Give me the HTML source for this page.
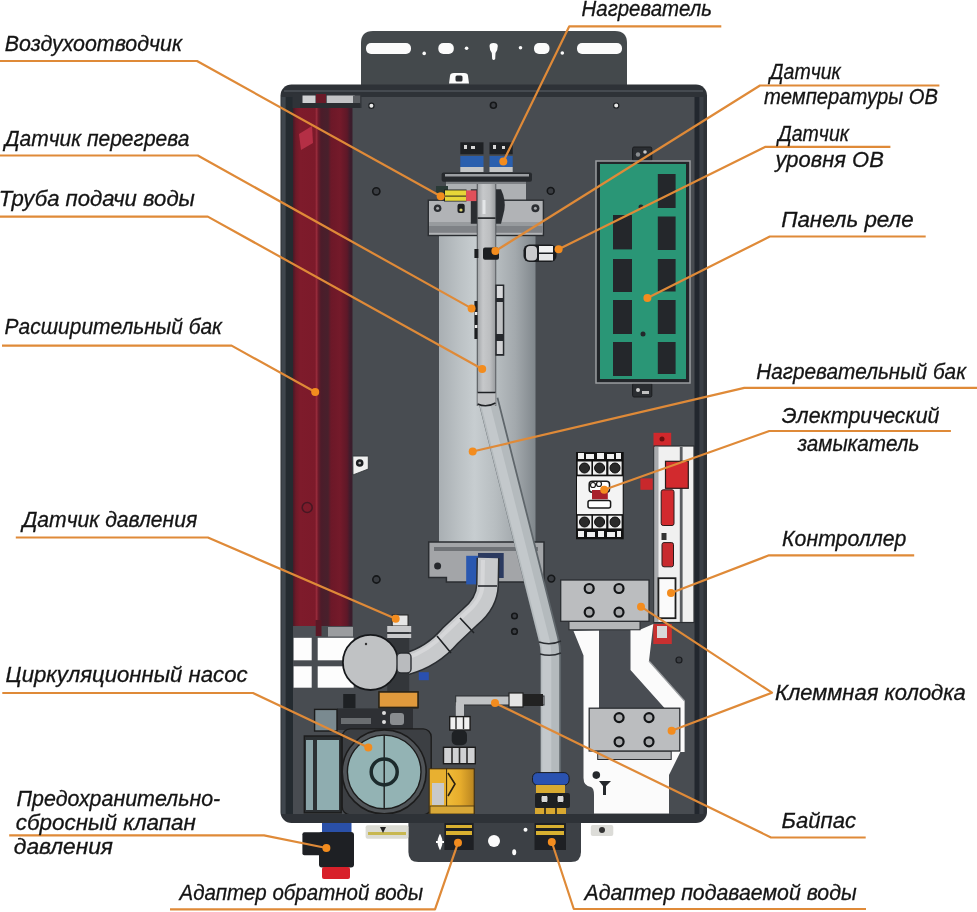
<!DOCTYPE html>
<html><head><meta charset="utf-8"><style>
html,body{margin:0;padding:0;background:#fff;width:977px;height:912px;overflow:hidden}
svg{display:block;will-change:transform}
.t{font-family:"Liberation Sans",sans-serif;font-style:italic;font-size:22px;fill:#141414;stroke:#141414;stroke-width:0.3px}
</style></head><body>
<svg width="977" height="912" viewBox="0 0 977 912">

<defs>
<linearGradient id="redg" x1="0" x2="1" y1="0" y2="0">
<stop offset="0.0" stop-color="#4a1826"/><stop offset="0.05" stop-color="#6e1a28"/><stop offset="0.118" stop-color="#7e1b2b"/><stop offset="0.37" stop-color="#7c1a2a"/><stop offset="0.395" stop-color="#962a3a"/><stop offset="0.429" stop-color="#6a1a2a"/><stop offset="0.471" stop-color="#4c1c2a"/><stop offset="0.588" stop-color="#48202c"/><stop offset="0.639" stop-color="#6c1828"/><stop offset="0.79" stop-color="#741a2a"/><stop offset="0.908" stop-color="#5e1828"/><stop offset="0.958" stop-color="#3e1c2c"/><stop offset="1.0" stop-color="#3a1e2c"/>
</linearGradient>
<linearGradient id="tankg" x1="0" x2="1" y1="0" y2="0">
<stop offset="0" stop-color="#a9afb3"/><stop offset="0.22" stop-color="#bcc2c5"/><stop offset="0.37" stop-color="#c7cdd0"/><stop offset="0.58" stop-color="#b8bec1"/><stop offset="0.79" stop-color="#a3a9ad"/><stop offset="1" stop-color="#80878c"/>
</linearGradient>
<linearGradient id="pipeg" x1="0" x2="1" y1="0" y2="0">
<stop offset="0" stop-color="#a4a7aa"/><stop offset="0.3" stop-color="#c6c8ca"/><stop offset="0.7" stop-color="#bcbec0"/><stop offset="1" stop-color="#9a9da0"/>
</linearGradient>
<linearGradient id="brg" x1="0" x2="0" y1="0" y2="1">
<stop offset="0" stop-color="#b3b5b8"/><stop offset="0.6" stop-color="#a6a8ab"/><stop offset="0.7" stop-color="#7c7f83"/><stop offset="1" stop-color="#8a8d90"/>
</linearGradient>
<linearGradient id="brass" x1="0" x2="1" y1="0" y2="0"><stop offset="0" stop-color="#f0bc38"/><stop offset="0.5" stop-color="#e6ac2c"/><stop offset="1" stop-color="#b88420"/></linearGradient>
</defs>
<!-- mounting plate -->
<path d="M361,100 V43 Q361,31 373,31 H615 Q627,31 627,43 V100 Z" fill="#44494c"/>
<g fill="#fbfbfb">
<rect x="366" y="43" width="45" height="11" rx="5"/>
<rect x="577" y="43" width="45" height="11" rx="5"/>
<rect x="438.3" y="43" width="15.5" height="11" rx="5"/>
<rect x="534" y="43" width="15.5" height="11" rx="5"/>
<circle cx="424.2" cy="53.4" r="1.8"/>
<circle cx="466.6" cy="48.2" r="1.8"/>
<circle cx="520.5" cy="47.8" r="1.8"/>
<circle cx="562.3" cy="53" r="1.8"/>
<path d="M489.5,46 Q489.5,43 493.5,43 Q497.8,43 497.8,46 Q497.8,50 495.5,53 L495.2,59 Q493.6,61 492.2,59 L491.8,53 Q489.5,50 489.5,46 Z"/>
<path d="M449,83.6 L450,76 Q450,73 454,73 H464 Q468,73 468,76 L469,83.6 Z"/>
</g>
<rect x="455.5" y="75.5" width="7" height="6" rx="1.5" fill="#2c2f33"/>
<!-- body frame -->
<rect x="280.5" y="84.5" width="426.5" height="738.5" rx="11" fill="#2e3237"/>
<rect x="292.5" y="97" width="403" height="717" fill="#484c51"/>
<rect x="284" y="90" width="419" height="2" fill="#454a50"/>
<rect x="281.5" y="97" width="4" height="717" fill="#3f464d"/>
<rect x="286" y="97" width="7" height="717" fill="#242b30"/>
<rect x="694.5" y="97" width="5" height="717" fill="#22272e"/>
<rect x="699.5" y="97" width="4" height="717" fill="#3a3f46"/>
<!-- screws -->
<g fill="#e8e8e8" stroke="#1d2023" stroke-width="1.2">
<circle cx="371.4" cy="105.8" r="2.6"/><circle cx="616.2" cy="105.6" r="2.6"/>
</g>
<g fill="#3a3d42" stroke="#151719" stroke-width="1.6">
<circle cx="376.3" cy="191.3" r="3.6"/><circle cx="550.7" cy="190.9" r="3.4"/><circle cx="376.4" cy="579.5" r="3.6"/><circle cx="356.5" cy="732.5" r="3"/><circle cx="551.3" cy="578.6" r="3.4"/><circle cx="514.5" cy="616" r="2.8"/><circle cx="514.5" cy="631.4" r="2.8"/><circle cx="493.4" cy="105.2" r="3"/>
</g>
<!-- red expansion tank -->
<rect x="293" y="108" width="59.5" height="518" fill="url(#redg)"/>
<rect x="315.5" y="620" width="6" height="16" fill="#5a1826"/>
<circle cx="307.2" cy="507.5" r="5" fill="none" stroke="#3a1620" stroke-width="1.5" opacity="0.8"/>
<path d="M299,134 L312,126 L313,143 L301,150 Z" fill="#c2344c" opacity="0.8"/>
<rect x="292.5" y="94" width="69" height="14" fill="#2f3338"/>
<rect x="316" y="94" width="10" height="14" fill="#6a1a28"/>
<rect x="302.5" y="95.5" width="13" height="8" fill="#cfd0d2"/>
<rect x="326.7" y="95.5" width="28" height="8" fill="#c3c4c6"/>
<rect x="353" y="95.5" width="7.2" height="8" fill="#5a5d61"/>
<rect x="300" y="103" width="60" height="5" fill="#2a2d31"/>
<rect x="293.5" y="626" width="22" height="11" fill="#4c5056"/>
<rect x="328" y="627" width="25" height="9.5" fill="#9a9c9f"/>
<!-- white windows -->
<g fill="#fdfdfd">
<rect x="293.6" y="637.8" width="18.1" height="22.5"/>
<rect x="317.7" y="637.8" width="36" height="22.5"/>
<rect x="293.6" y="666.3" width="18.1" height="21.4"/>
<rect x="317.7" y="666.3" width="36" height="21.4"/>
</g>
<!-- heating tank -->
<rect x="439" y="230" width="96.5" height="312" fill="url(#tankg)"/>
<rect x="446" y="181" width="80" height="20" fill="#adb0b3"/>
<rect x="446" y="181" width="80" height="3" fill="#7e8185"/>
<rect x="428.3" y="200.2" width="115.1" height="35.3" fill="#b1b3b6" stroke="#2a2d31" stroke-width="1.4"/>
<rect x="429" y="225.5" width="113.7" height="7.3" fill="#7f8286"/>
<rect x="429" y="222" width="113.7" height="3.5" fill="#989b9e"/>
<path d="M470.8,189.3 H501 Q506,200 504.4,210 L501,223.7 H470.8 Z" fill="#2a2d31"/>
<circle cx="437.6" cy="208.2" r="3.8" fill="#2b2e32"/><circle cx="437.6" cy="208.2" r="1.5" fill="#a8aaad"/>
<circle cx="535.4" cy="208.2" r="4" fill="#2b2e32"/><circle cx="535.4" cy="208.2" r="1.5" fill="#a8aaad"/>
<rect x="441.6" y="172.5" width="90.4" height="9.3" rx="2" fill="#26292d"/>
<rect x="445" y="174" width="84" height="2.5" fill="#9b9ea2"/>
<g>
<rect x="460.3" y="142.3" width="23.2" height="12" fill="#1e2124"/>
<rect x="460.3" y="156" width="23.2" height="11" fill="#2a5fae"/>
<rect x="460.3" y="167" width="23.2" height="5" fill="#c4c6c8"/>
<rect x="489.5" y="142.3" width="23.2" height="12" fill="#1e2124"/>
<rect x="489.5" y="156" width="23.2" height="11" fill="#2a5fae"/>
<rect x="489.5" y="167" width="23.2" height="5" fill="#c4c6c8"/>
<g fill="#d8d8d8"><rect x="464" y="145" width="3" height="4"/><rect x="471" y="146" width="4" height="3"/><rect x="493" y="145" width="3" height="4"/><rect x="502" y="146" width="3" height="3"/></g>
</g>
<!-- overheat sensor -->
<rect x="436" y="186" width="12" height="7" fill="#2a3a36"/>
<rect x="444" y="189.5" width="22.5" height="12" fill="#1e2020"/>
<rect x="445" y="190.4" width="21" height="5.2" fill="#e6d638"/>
<rect x="445" y="196.6" width="21" height="4.2" fill="#e6d638"/>
<rect x="466.1" y="190.4" width="10.4" height="10.7" fill="#e0505a"/>
<rect x="457.5" y="203.7" width="7.2" height="9.3" rx="2" fill="#1c1e20"/>
<circle cx="461" cy="210" r="1.6" fill="#d8d070"/>
<!-- tank bottom bracket -->
<path d="M428.7,542 H544 V582 H446.4 V577.5 H428.7 Z" fill="#a3a5a8" stroke="#2a2d31" stroke-width="1.5"/>
<rect x="434" y="547" width="104" height="4" fill="#6f7276"/>
<circle cx="437.6" cy="566" r="3.5" fill="#26292d"/>
<rect x="466.2" y="555.8" width="11.8" height="28.6" fill="#2a58b0"/>
<rect x="478" y="553" width="25.7" height="25" fill="#2b3a60"/>
<!-- supply pipe -->
<path d="M488.4,400 L549,640 Q550.8,647 550.8,655 L550.8,776" stroke="#5f666b" stroke-width="20.5" fill="none"/>
<path d="M487.6,400 L548.2,640 Q550,647 550,655 L550,776" stroke="#b4babd" stroke-width="18.5" fill="none"/>
<path d="M484.5,400 L545,640 Q546.8,647 546.8,655 L546.8,776" stroke="#c3c8cb" stroke-width="9" fill="none"/>
<path d="M539,642 Q550,646 561,641 M540,654 Q551,657 561,653" stroke="#2a2d31" stroke-width="1.4" fill="none"/>
<rect x="476.8" y="184" width="19.4" height="222" fill="#3a3d41"/>
<rect x="477.6" y="184" width="17.9" height="222" fill="url(#pipeg)"/>
<rect x="477.6" y="217.3" width="17.9" height="1.6" fill="#1e2124"/>
<rect x="482.5" y="200" width="3" height="14" fill="#e4e6e8"/>
<rect x="477.6" y="392.4" width="17.9" height="13" fill="#bfc1c3"/>
<path d="M477.6,392.4 H495.5 M477.6,404 Q486.5,408 495.5,403" stroke="#1e2124" stroke-width="1.5" fill="none"/>
<!-- elbow pipe -->
<path d="M488,558 L487.5,585 Q487,603 470,617 L450,636 Q432,657 406,664" stroke="#2a2d31" stroke-width="23" fill="none"/>
<path d="M488,558 L487.5,585 Q487,603 470,617 L450,636 Q432,657 406,664" stroke="#c8cacc" stroke-width="20" fill="none"/>
<path d="M483,560 L482.5,585 Q482,600 466,613 L446,632 Q429,651 404,659" stroke="#d6d7d9" stroke-width="4" fill="none"/>
<path d="M478,586 L497,586 M460,618 L474,633 M437,636 L451,653" stroke="#1e2124" stroke-width="1.6" fill="none"/>
<rect x="418.8" y="672.2" width="10" height="8" fill="#2a50b0"/>
<!-- temp sensor on pipe -->
<rect x="474.4" y="249" width="4" height="9" fill="#1c1e21"/>
<rect x="483" y="247.5" width="16" height="12.3" rx="2" fill="#1c1e21"/>
<rect x="474.4" y="301" width="3" height="38" fill="#1c1e21"/>
<rect x="474.8" y="312" width="2.5" height="3" fill="#eee"/><rect x="474.8" y="325" width="2.5" height="3" fill="#eee"/>
<rect x="495.3" y="284.5" width="9" height="71.3" fill="#26292d"/>
<rect x="496.8" y="286" width="6" height="12" fill="#d8d9db"/>
<rect x="496.8" y="302" width="6" height="32" fill="#bfc1c3"/>
<rect x="496.8" y="341" width="6" height="13" fill="#d0d1d3"/>
<!-- V bracket -->
<path d="M352.8,456.1 H368.3 V469 L353,474.9 Z" fill="#efefef" stroke="#2a2d31" stroke-width="0.8"/>
<circle cx="359.7" cy="463" r="3.8" fill="#1c1e21"/><circle cx="359.7" cy="463" r="1.3" fill="#aaa"/>
<!-- level sensor -->
<rect x="523.5" y="244.5" width="33" height="17.5" rx="6" fill="#1a1c1f"/>
<rect x="526" y="246" width="11" height="14.5" rx="4" fill="#c9cacc"/>
<rect x="539" y="246" width="14" height="6.5" fill="#f2f2f2"/>
<rect x="539" y="254" width="14" height="6.5" fill="#e6e6e6"/>
<!-- pressure sensor -->
<rect x="387.2" y="626" width="22" height="66" fill="#33363a"/>
<rect x="392.2" y="615" width="15.8" height="11" fill="#e6e6e6" stroke="#222" stroke-width="1"/>
<rect x="387.2" y="626" width="24" height="6" fill="#c8c9cb"/>
<rect x="387.2" y="634" width="24" height="4" fill="#c8c9cb"/>
<circle cx="370.5" cy="662.4" r="27.6" fill="#c0c2c4" stroke="#16181b" stroke-width="1.8"/>
<rect x="397" y="653" width="14" height="20" rx="4" fill="#b9bbbe" stroke="#2a2d31" stroke-width="1.4"/>
<circle cx="366" cy="644" r="1.2" fill="#333"/>
<rect x="379.3" y="692" width="38.5" height="15.8" fill="#e09a3c" stroke="#2a2418" stroke-width="1.5"/>
<!-- relay panel -->
<rect x="632.6" y="147" width="19.2" height="14" rx="1.5" fill="#2a2d31" stroke="#1a1c1f" stroke-width="1"/>
<circle cx="638" cy="154.5" r="2.2" fill="#8a8d90"/><circle cx="645" cy="152" r="1.8" fill="#c8c8c8"/>
<rect x="632.6" y="383" width="19.2" height="14" rx="1.5" fill="#2a2d31" stroke="#1a1c1f" stroke-width="1"/>
<circle cx="638" cy="390" r="2" fill="#d0d0d0"/><rect x="642" y="391" width="7" height="3" fill="#c0c0c0"/>
<rect x="596" y="161" width="94" height="222" fill="#23262a" stroke="#9a9da0" stroke-width="1.5"/>
<rect x="600" y="164" width="86" height="215" fill="#2a9676"/>
<g fill="#24272b">
<rect x="657.8" y="174" width="17.8" height="34"/>
<rect x="657.8" y="216.5" width="17.8" height="33.5"/>
<rect x="657.8" y="259" width="17.8" height="32.5"/>
<rect x="657.8" y="300" width="17.8" height="34"/>
<rect x="657.8" y="342" width="17.8" height="32"/>
<rect x="613" y="215" width="19" height="34.4"/>
<rect x="613" y="259" width="19" height="33"/>
<rect x="613" y="300" width="19" height="34"/>
<rect x="613" y="342" width="19" height="34"/>
<circle cx="641" cy="207" r="2.5"/><circle cx="643" cy="334" r="2.5"/>
</g>
<!-- contactor -->
<rect x="576" y="452" width="47.7" height="87.3" fill="#111"/>
<rect x="577" y="476.3" width="45.7" height="37.8" fill="#f4f4f4"/>
<g fill="#f0f0f0">
<rect x="578" y="453" width="6" height="6"/><rect x="586" y="454" width="8" height="5"/><rect x="597" y="453" width="7" height="6"/><rect x="607" y="454" width="7" height="5"/><rect x="616" y="453" width="5" height="6"/>
<rect x="578" y="531" width="6" height="6"/><rect x="587" y="532" width="8" height="5"/><rect x="598" y="531" width="6" height="6"/><rect x="607" y="532" width="8" height="5"/><rect x="617" y="531" width="4" height="6"/>
<rect x="577.7" y="461.5" width="13.7" height="13.1"/><rect x="593" y="461.5" width="13.2" height="13.1"/><rect x="608.4" y="461.5" width="13.2" height="13.1"/>
<rect x="577.7" y="515.7" width="13.7" height="12.7"/><rect x="593" y="515.7" width="13.2" height="12.7"/><rect x="608.4" y="515.7" width="13.2" height="12.7"/>
</g>
<g fill="#2a2a2a" stroke="#0c0c0c" stroke-width="1">
<circle cx="584.5" cy="468" r="5"/><circle cx="599.6" cy="468" r="5"/><circle cx="615" cy="468" r="5"/>
<circle cx="584.5" cy="522" r="5"/><circle cx="599.6" cy="522" r="5"/><circle cx="615" cy="522" r="5"/>
</g>
<rect x="589.2" y="481.2" width="20.3" height="11" rx="3" fill="#fff" stroke="#1a1a1a" stroke-width="1.5"/>
<circle cx="593" cy="485" r="2.5" fill="#fff" stroke="#1a1a1a" stroke-width="1.2"/><circle cx="599" cy="484" r="2.5" fill="#fff" stroke="#1a1a1a" stroke-width="1.2"/>
<rect x="592" y="490" width="15.8" height="9.3" fill="#a8202a"/>
<rect x="588" y="500.4" width="22.6" height="7.6" rx="2" fill="#fff" stroke="#1a1a1a" stroke-width="1.5"/>
<!-- controller -->
<rect x="640.4" y="478.4" width="12.3" height="11.4" fill="#c8282c"/>
<rect x="653.5" y="432.8" width="17.7" height="15.7" fill="#d0282c"/>
<circle cx="662" cy="439" r="2.5" fill="#6a1010"/>
<rect x="654" y="446" width="40" height="176.5" fill="#f0f0f0" stroke="#2a2d31" stroke-width="1.2"/>
<rect x="654.5" y="447" width="4" height="175" fill="#a8aaad"/>
<rect x="679.8" y="447" width="2.8" height="175" fill="#5a5d61"/>
<rect x="665.5" y="461.3" width="22.8" height="27" fill="#d22a2e" stroke="#2a1a1a" stroke-width="1.2"/>
<rect x="661.2" y="489.8" width="12.8" height="35.7" rx="2" fill="#d22a2e" stroke="#2a1a1a" stroke-width="1"/>
<rect x="661.5" y="533" width="5" height="7" fill="#333"/>
<rect x="662" y="542.6" width="11.5" height="24.2" rx="2" fill="#c82a2e" stroke="#2a1a1a" stroke-width="1"/>
<rect x="658.4" y="578.2" width="17.1" height="40" fill="#fafafa" stroke="#1e1e1e" stroke-width="1.8"/>
<rect x="653.3" y="624" width="18.5" height="20" fill="#c83030"/>
<rect x="657" y="626" width="10" height="12" fill="#d8d8d8"/>
<!-- white cutout -->
<path d="M573.5,631 L583.5,655.5 L583.5,778 Q583.5,786 591,787 Q594,788 594,795 L594,813.6 L669,813.6 L669,775 L680.4,752 L684.6,752 L684.6,701 L649,661 L653.3,624 L640,629.8 Z" fill="#fbfbfb"/>
<path d="M599,629.8 H630.5 V670 L664.7,708.2 H599 Z" fill="#494d53"/>
<path d="M649,661 L684.6,701" stroke="#9a9da0" stroke-width="1.2" fill="none"/>
<!-- terminal blocks -->
<rect x="569" y="621.3" width="71" height="8.5" fill="#b4b6b8" stroke="#2a2d31" stroke-width="1"/>
<rect x="560.7" y="580" width="88.3" height="41.3" fill="#bbbdbf" stroke="#2a2d31" stroke-width="1.3"/>
<rect x="597.7" y="751" width="73.5" height="8.5" fill="#b4b6b8" stroke="#2a2d31" stroke-width="1"/>
<rect x="589.2" y="708.2" width="90.6" height="42.8" fill="#bbbdbf" stroke="#2a2d31" stroke-width="1.3"/>
<g fill="#a9abad" stroke="#121416" stroke-width="2.2">
<circle cx="589.2" cy="588.5" r="4.5"/><circle cx="619" cy="588.5" r="4.5"/><circle cx="589.2" cy="612.2" r="4.5"/><circle cx="619" cy="612.2" r="4.5"/>
<circle cx="619.1" cy="717.6" r="4.5"/><circle cx="649" cy="717.6" r="4.5"/><circle cx="619.1" cy="741.8" r="4.5"/><circle cx="649" cy="741.8" r="4.5"/>
</g>
<circle cx="596.3" cy="775.1" r="3.8" fill="#25282c"/>
<path d="M599,781 L611,781 L606,786 L606,795 L603,795 L603,786 Z" fill="#25282c"/>
<circle cx="679" cy="660" r="3" fill="#3a3d42" stroke="#1a1c1f" stroke-width="1.2"/>
<!-- bypass -->
<rect x="455.7" y="696" width="88.3" height="9" fill="#c0c2c4" stroke="#2a2d31" stroke-width="1"/>
<rect x="509" y="693" width="14" height="14" fill="#e4e4e4" stroke="#222" stroke-width="1.2"/>
<rect x="523" y="694" width="20" height="12" fill="#222"/>
<rect x="455.8" y="702.3" width="8.2" height="14.3" fill="#c0c2c4"/>
<rect x="449.7" y="716.6" width="20.4" height="13.4" fill="#f0f0f0" stroke="#1c1c1c" stroke-width="1.4"/>
<path d="M456,717 V729 M463.5,717 V729" stroke="#2a2a2a" stroke-width="1.4"/>
<rect x="451.7" y="730" width="15.3" height="15.3" rx="5" fill="#1e2124"/>
<rect x="443.5" y="747.3" width="31.8" height="16.4" fill="#d0d1d3" stroke="#1c1c1c" stroke-width="1.4"/>
<path d="M452,748 V763 M459.5,748 V763 M467,748 V763" stroke="#2a2a2a" stroke-width="1.6"/>
<!-- pump -->
<rect x="343.2" y="694" width="12.3" height="14.4" fill="#1e2124"/>
<rect x="337" y="708.4" width="76" height="21.6" fill="#2e3034"/>
<rect x="341" y="718" width="30" height="6" fill="#6a6d70"/>
<circle cx="384" cy="713" r="2" fill="#ddd"/><circle cx="384" cy="722" r="2" fill="#ddd"/>
<rect x="390" y="713" width="14" height="12" rx="3" fill="#8a8d90"/>
<rect x="314.6" y="709.4" width="22.4" height="21.6" fill="#7a8a90" stroke="#1c1c1c" stroke-width="1.4"/>
<rect x="342.2" y="728.9" width="89" height="86" rx="8" fill="#3c3f43" stroke="#1c1c1c" stroke-width="1.4"/>
<rect x="304.3" y="736" width="36.9" height="76.8" fill="#2c3033" stroke="#1c1c1c" stroke-width="1.4"/>
<rect x="306" y="740" width="7" height="70" fill="#8aa4a8"/>
<rect x="317" y="740" width="22" height="70" fill="#8fadb0"/>
<circle cx="384.2" cy="771.9" r="42" fill="#505458" stroke="#1c1c1c" stroke-width="1.6"/>
<circle cx="384.2" cy="771.9" r="36.8" fill="#93b3b4" stroke="#1c1c1c" stroke-width="1.4"/>
<line x1="384.2" y1="735" x2="384.2" y2="809" stroke="#1c1c1c" stroke-width="1.4"/>
<circle cx="384.2" cy="771.9" r="13" fill="none" stroke="#1c2a2c" stroke-width="3.5"/>
<rect x="379" y="692" width="39" height="15.4" fill="#e09a3c" stroke="#2a2418" stroke-width="1.5"/>
<!-- brass valve -->
<rect x="429.2" y="768.8" width="18" height="46" fill="#e8b030" stroke="#3a2a10" stroke-width="1"/>
<rect x="446.6" y="768.8" width="27.6" height="46" fill="url(#brass)" stroke="#3a2a10" stroke-width="1"/>
<path d="M448,773 L455,784 L448,796" stroke="#2a2010" stroke-width="1.6" fill="none"/>
<rect x="430" y="806" width="44" height="8" fill="#d8a838" stroke="#3a2a10" stroke-width="0.8"/>
<rect x="432" y="783" width="12" height="22" fill="#c8c9cb"/>
<!-- supply bottom fittings -->
<rect x="532.5" y="772.6" width="36.6" height="12.6" rx="5" fill="#2a52b0" stroke="#1a1c20" stroke-width="1"/>
<rect x="536" y="785" width="29" height="8" fill="#d8aa30"/>
<rect x="535" y="793" width="35" height="15" rx="2" fill="#1e2022"/>
<rect x="541" y="795.5" width="7" height="7" rx="1.5" fill="#d8d8d8" stroke="#111" stroke-width="1"/>
<rect x="557" y="795.5" width="7" height="7" rx="1.5" fill="#d8d8d8" stroke="#111" stroke-width="1"/>
<rect x="535" y="808" width="31" height="6" fill="#d8a830"/>
<rect x="544" y="808" width="2" height="6" fill="#443a20"/><rect x="555" y="808" width="2" height="6" fill="#443a20"/>
<!-- frame bottom band overlay -->
<rect x="292.5" y="814" width="403" height="9" fill="#2e3237"/>
<!-- safety valve -->
<rect x="322" y="823" width="29.5" height="10.8" fill="#2a50a8"/>
<rect x="302.4" y="832.2" width="22" height="23" rx="2" fill="#1e2024"/>
<rect x="319" y="832" width="35" height="35.4" rx="3" fill="#1e2024"/>
<rect x="322" y="867" width="28" height="12" rx="2" fill="#d8202a"/>
<!-- bottom plate -->
<path d="M408.4,823 H581 V852 Q581,862 571,862 H418.4 Q408.4,862 408.4,852 Z" fill="#3c4045"/>
<rect x="365.6" y="825.3" width="42.8" height="13.5" rx="2" fill="#dcdcd4"/>
<rect x="368" y="832" width="38" height="3" fill="#c8b850"/>
<path d="M380,827 L386,827 L383,833 Z" fill="#222"/>
<rect x="590.8" y="825" width="22.5" height="11" rx="2" fill="#dcdcd8"/>
<circle cx="602" cy="830" r="3" fill="#333"/>
<rect x="444.4" y="823" width="29.3" height="27" fill="#1e2024"/>
<rect x="446" y="825" width="26" height="3" fill="#d8b030"/>
<rect x="446" y="831" width="26" height="4" fill="#d8b030"/>
<rect x="534.5" y="823" width="31.5" height="27" fill="#1e2024"/>
<rect x="536" y="825" width="28" height="3" fill="#d8b030"/>
<rect x="536" y="831" width="28" height="4" fill="#d8b030"/>
<circle cx="494" cy="841" r="6" fill="#fbfbfb"/>
<circle cx="525.5" cy="829.8" r="2" fill="#fbfbfb"/><ellipse cx="514.2" cy="852.3" rx="2" ry="3" fill="#fbfbfb"/>
<path d="M440,836 Q437,842 440,848 Q443,842 440,836 Z M436,842 H444" stroke="#fbfbfb" stroke-width="2" fill="#fbfbfb"/>

<g fill="none" stroke="#df8a38" stroke-width="2.2" stroke-linejoin="round">
<polyline points="0,61 197,61 440.7,196.3"/>
<polyline points="0,155.5 197.8,155.5 471.6,308.4"/>
<polyline points="0,216.6 207.8,216.6 482.2,369"/>
<polyline points="2,345.6 231.6,345.6 315.2,392"/>
<polyline points="15.8,537.5 207.9,537.5 395.7,618.7"/>
<polyline points="2.3,693 253,693 368.3,747.6"/>
<polyline points="9.2,835.4 264,835.4 326.4,848"/>
<polyline points="170,909.4 435,909.4 458,842.8"/>
<polyline points="866,909 573.8,909 551.8,842"/>
<polyline points="865.7,837.5 771,837.5 495,703"/>
<polyline points="641,606.7 772,692.7 671.6,730.8"/>
<polyline points="914.2,555.3 769,555.3 671,593"/>
<polyline points="950.9,431 769.3,431 604.2,489.8"/>
<polyline points="977,387.9 744.3,387.9 472.7,451.5"/>
<polyline points="925.7,236.5 769.8,236.5 647.4,298"/>
<polyline points="890.4,146.8 765.5,146.8 558.6,249.3"/>
<polyline points="939.4,85.5 760,85.5 495.4,251"/>
<polyline points="721.3,26.3 569.3,26.3 503.3,161.6"/>
</g><g fill="#f38c1e">
<circle cx="440.7" cy="196.3" r="4"/>
<circle cx="471.6" cy="308.4" r="4"/>
<circle cx="482.2" cy="369" r="4"/>
<circle cx="315.2" cy="392" r="4"/>
<circle cx="395.7" cy="618.7" r="4"/>
<circle cx="368.3" cy="747.6" r="4"/>
<circle cx="326.4" cy="848" r="4"/>
<circle cx="458" cy="842.8" r="4"/>
<circle cx="551.8" cy="842" r="4"/>
<circle cx="495" cy="703" r="4"/>
<circle cx="641" cy="606.7" r="4"/>
<circle cx="671.6" cy="730.8" r="4"/>
<circle cx="671" cy="593" r="4"/>
<circle cx="604.2" cy="489.8" r="4"/>
<circle cx="472.7" cy="451.5" r="4"/>
<circle cx="647.4" cy="298" r="4"/>
<circle cx="558.6" cy="249.3" r="4"/>
<circle cx="495.4" cy="251" r="4"/>
<circle cx="503.3" cy="161.6" r="4"/>
</g><g class="t">
<text x="4.8" y="50.5" textLength="177.3" lengthAdjust="spacingAndGlyphs">Воздухоотводчик</text>
<text x="4.8" y="145.7" textLength="184.6" lengthAdjust="spacingAndGlyphs">Датчик перегрева</text>
<text x="-1.2" y="206.3" textLength="196.1" lengthAdjust="spacingAndGlyphs">Труба подачи воды</text>
<text x="4.6" y="334.3" textLength="217.4" lengthAdjust="spacingAndGlyphs">Расширительный бак</text>
<text x="22.4" y="526.8" textLength="174.9" lengthAdjust="spacingAndGlyphs">Датчик давления</text>
<text x="5.6" y="682.3" textLength="242" lengthAdjust="spacingAndGlyphs">Циркуляционный насос</text>
<text x="16.6" y="806" textLength="203.6" lengthAdjust="spacingAndGlyphs">Предохранительно-</text>
<text x="15.8" y="829.9" textLength="180.1" lengthAdjust="spacingAndGlyphs">сбросный клапан</text>
<text x="13.8" y="853.8" textLength="99.2" lengthAdjust="spacingAndGlyphs">давления</text>
<text x="179.5" y="900.3" textLength="243.5" lengthAdjust="spacingAndGlyphs">Адаптер обратной воды</text>
<text x="584.5" y="899.8" textLength="272.1" lengthAdjust="spacingAndGlyphs">Адаптер подаваемой воды</text>
<text x="781.6" y="827.7" textLength="74.4" lengthAdjust="spacingAndGlyphs">Байпас</text>
<text x="775" y="700.3" textLength="190.8" lengthAdjust="spacingAndGlyphs">Клеммная колодка</text>
<text x="782.1" y="545.5" textLength="124.3" lengthAdjust="spacingAndGlyphs">Контроллер</text>
<text x="781.8" y="423.3" textLength="157.6" lengthAdjust="spacingAndGlyphs">Электрический</text>
<text x="797.4" y="451" textLength="122" lengthAdjust="spacingAndGlyphs">замыкатель</text>
<text x="756.2" y="379" textLength="209.8" lengthAdjust="spacingAndGlyphs">Нагревательный бак</text>
<text x="781.2" y="226.9" textLength="132.4" lengthAdjust="spacingAndGlyphs">Панель реле</text>
<text x="778" y="140.9" textLength="71" lengthAdjust="spacingAndGlyphs">Датчик</text>
<text x="775.4" y="167.3" textLength="108.4" lengthAdjust="spacingAndGlyphs">уровня ОВ</text>
<text x="769.8" y="79.1" textLength="71" lengthAdjust="spacingAndGlyphs">Датчик</text>
<text x="764" y="104.3" textLength="174" lengthAdjust="spacingAndGlyphs">температуры ОВ</text>
<text x="581.6" y="16.1" textLength="130.4" lengthAdjust="spacingAndGlyphs">Нагреватель</text>
</g>
</svg>
</body></html>
